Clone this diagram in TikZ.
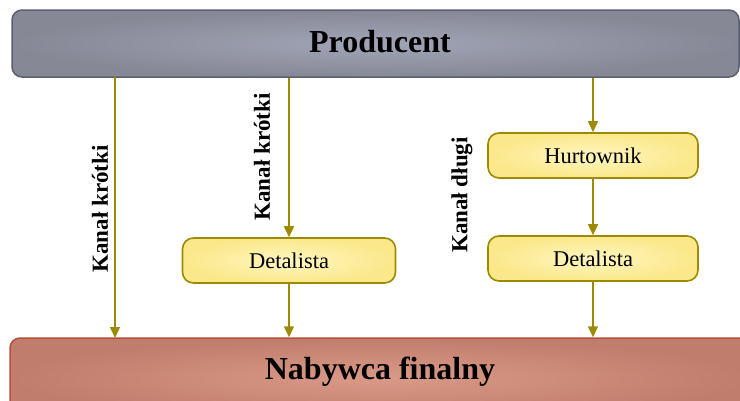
\documentclass[tikz,border=0pt]{standalone}
\usepackage{fontspec}
\setmainfont{Liberation Serif}
\usetikzlibrary{arrows.meta}
\definecolor{olive}{HTML}{9E8A00}
\definecolor{grayin}{HTML}{A2A5B6}
\definecolor{grayout}{HTML}{868896}
\definecolor{grayline}{HTML}{5C5F72}
\definecolor{redin}{HTML}{DA9A88}
\definecolor{redout}{HTML}{C07C6C}
\definecolor{redline}{HTML}{B4503A}
\definecolor{yelin}{HTML}{FFF6C0}
\definecolor{yelout}{HTML}{FBE88A}
\tikzset{
  bar/.style={rounded corners=10pt, line width=1.5pt, inner sep=0pt},
  topbar/.style={bar, draw=grayline, inner color=grayin, outer color=grayout},
  botbar/.style={bar, draw=redline, inner color=redin, outer color=redout},
  boxnode/.style={rounded corners=11pt, draw=olive, line width=1.6pt, inner color=yelin, outer color=yelout, minimum width=213pt, minimum height=45pt, font=\fontsize{22.5}{26}\selectfont},
  conn/.style={draw=olive, line width=1.5pt, -{Triangle[length=11pt,width=10pt]}},
  lbl/.style={rotate=90, font=\fontsize{23}{27}\selectfont\bfseries, inner sep=0pt},
  big/.style={font=\fontsize{32}{38}\selectfont\bfseries, inner sep=0pt}
}
\begin{document}
\begin{tikzpicture}[x=1pt,y=-1pt]
\useasboundingbox (0,0) rectangle (740,400);
\clip (0,0) rectangle (740,400);
\node[topbar, minimum width=727pt, minimum height=67pt] (prod) at (375.5,43.5) {};
\node[big] (prodt) at (380,42) {Producent};
\node[botbar, minimum width=740pt, minimum height=80pt] (nab) at (380,378) {};
\node[big] (nabt) at (380,372) {Nabywca finalny};
\node[boxnode] (det1) at (289,260.5) {Detalista};
\node[boxnode, minimum width=210pt] (hurt) at (593,155.5) {Hurtownik};
\node[boxnode, minimum width=210pt] (det2) at (593,258.5) {Detalista};
\coordinate (a1) at (115,77);
\coordinate (b1) at (115,338);
\draw[conn] (a1) -- (b1);
\draw[conn] (det1.north |- prod.south) -- (det1.north);
\draw[conn] (det1.south) -- (det1.south |- nab.north);
\draw[conn] (hurt.north |- prod.south) -- (hurt.north);
\draw[conn] (hurt.south) -- (det2.north);
\draw[conn] (det2.south) -- (det2.south |- nab.north);
\node[lbl] (l1) at (100,209) {Kanał krótki};
\node[lbl] (l2) at (262,157) {Kanał krótki};
\node[lbl] (l3) at (462,195) {Kanał długi};
\end{tikzpicture}
\end{document}
